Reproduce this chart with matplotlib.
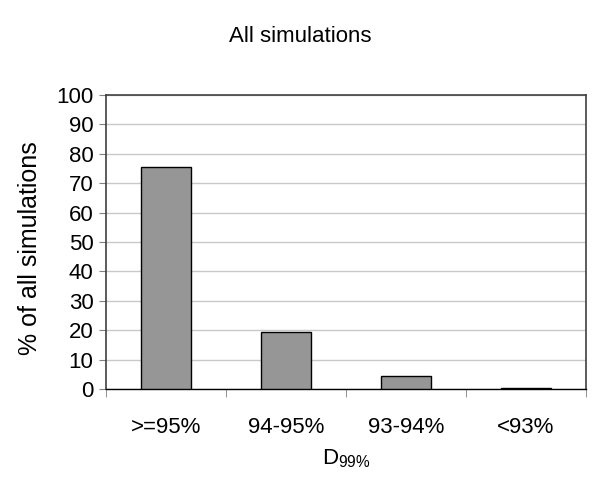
import matplotlib
matplotlib.use("Agg")
import matplotlib.pyplot as plt
import numpy as np

categories = [">=95%", "94-95%", "93-94%", "<93%"]
values = [75.6, 19.5, 4.4, 0.4]
yticks = list(range(0, 101, 10))

plt.rcParams['font.family'] = ['Liberation Sans', 'DejaVu Sans']

fig = plt.figure(figsize=(6, 4.8), dpi=100)
ax = fig.add_axes([106/600, 1-389/480, 480/600, 294/480])

x = np.arange(len(categories))
ax.bar(x, values, width=0.41, color='#969696', edgecolor='black', linewidth=1.0, zorder=3)
ax.set_xlim(-0.5, len(categories) - 0.5)
ax.set_ylim(0, 100)
ax.set_yticks(yticks)
ax.yaxis.grid(True, color='#c8c8c8', linewidth=1.0, zorder=0)
ax.set_xticks(x)
ax.set_xticklabels(categories, fontsize=16)
ax.set_xticks(np.arange(-0.5, len(categories), 1.0), minor=True)
ax.tick_params(axis='x', which='major', length=0, pad=20)
ax.tick_params(axis='x', which='minor', length=6, color='#808080', direction='out')
ax.tick_params(axis='y', labelsize=16, length=5, color='#808080', direction='out', pad=4)
for s in ['top', 'right', 'left']:
    ax.spines[s].set_color('#404040')
    ax.spines[s].set_linewidth(1.2)
ax.spines['bottom'].set_color('black')
ax.spines['bottom'].set_linewidth(1.0)

ax.set_ylabel("% of all simulations", fontsize=18)
ax.yaxis.set_label_coords((42 - 106) / 480, (389 - 248) / 294)
ax.set_xlabel(r"D$_{\mathregular{99\%}}$", fontsize=16, labelpad=7)
fig.text(0.5, 1-36/480, "All simulations", ha='center', va='center', fontsize=16)

fig.savefig("out.png", dpi=100)
